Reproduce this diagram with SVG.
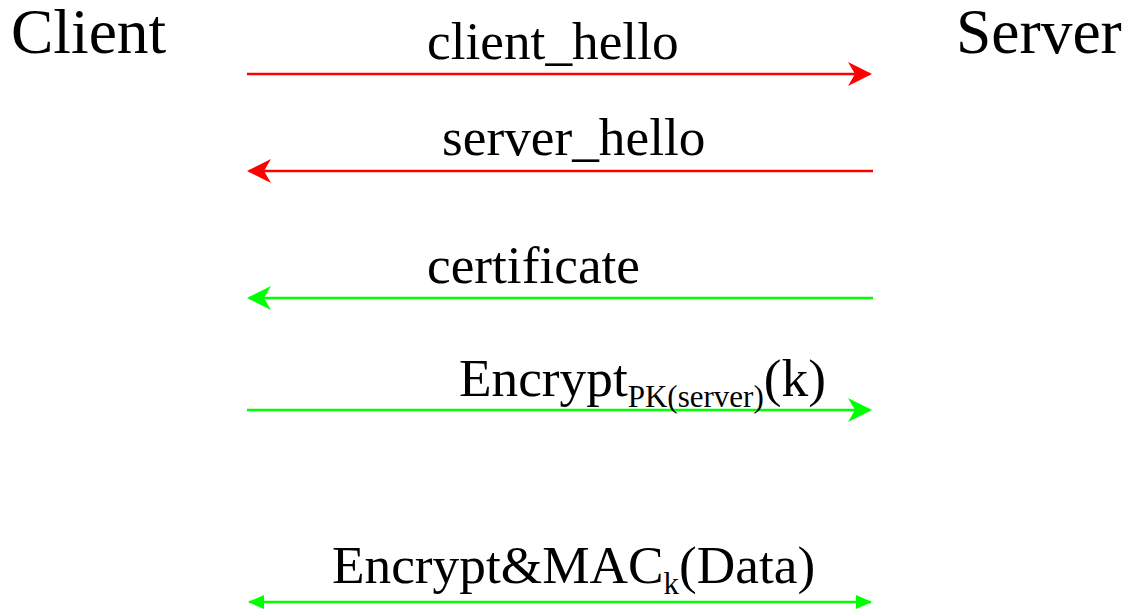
<svg xmlns="http://www.w3.org/2000/svg" width="1128" height="613" viewBox="0 0 1128 613">
<style>
text{font-family:"Liberation Serif","Times New Roman",serif;fill:#000}
.big{font-size:63.5px}
.lbl{font-size:53.3px}
.sub{font-size:31px}
.red{stroke:#ff0000;stroke-width:2.5;fill:none}
.grn{stroke:#00ff00;stroke-width:2.5;fill:none}
</style>
<defs>
<marker id="sr" viewBox="0 0 24 24" refX="22" refY="12" markerWidth="24" markerHeight="24" markerUnits="userSpaceOnUse" orient="auto-start-reverse">
<path d="M0,0 L24,12 L0,24 L7,12 Z" fill="#ff0000"/>
</marker>
<marker id="sg" viewBox="0 0 24 24" refX="22" refY="12" markerWidth="24" markerHeight="24" markerUnits="userSpaceOnUse" orient="auto-start-reverse">
<path d="M0,0 L24,12 L0,24 L7,12 Z" fill="#00ff00"/>
</marker>
<marker id="tg" viewBox="0 0 16 16" refX="15" refY="8" markerWidth="16" markerHeight="16" markerUnits="userSpaceOnUse" orient="auto-start-reverse">
<path d="M0,1 L16,8 L0,15 Z" fill="#00ff00"/>
</marker>
</defs>
<g id="client"><text class="big" x="11" y="53">Client</text></g>
<g id="server"><text class="big" x="956" y="53">Server</text></g>
<g id="connectors">
<line class="red" x1="247" y1="74" x2="870" y2="74" marker-end="url(#sr)"/>
<line class="red" x1="873" y1="171" x2="249" y2="171" marker-end="url(#sr)"/>
<line class="grn" x1="873" y1="298" x2="249" y2="298" marker-end="url(#sg)"/>
<line class="grn" x1="247" y1="410" x2="870" y2="410" marker-end="url(#sg)"/>
<line class="grn" x1="249" y1="602" x2="871" y2="602" marker-start="url(#tg)" marker-end="url(#tg)"/>
</g>
<g id="labels">
<text class="lbl" x="427" y="59">client_hello</text>
<text class="lbl" x="442" y="155">server_hello</text>
<text class="lbl" x="427" y="283">certificate</text>
<text class="lbl" x="459" y="396">Encrypt<tspan class="sub" dy="11">PK(server)</tspan><tspan dy="-11">(k)</tspan></text>
<text class="lbl" x="332" y="583">Encrypt&amp;MAC<tspan class="sub" dy="11">k</tspan><tspan dy="-11">(Data)</tspan></text>
</g>
</svg>
